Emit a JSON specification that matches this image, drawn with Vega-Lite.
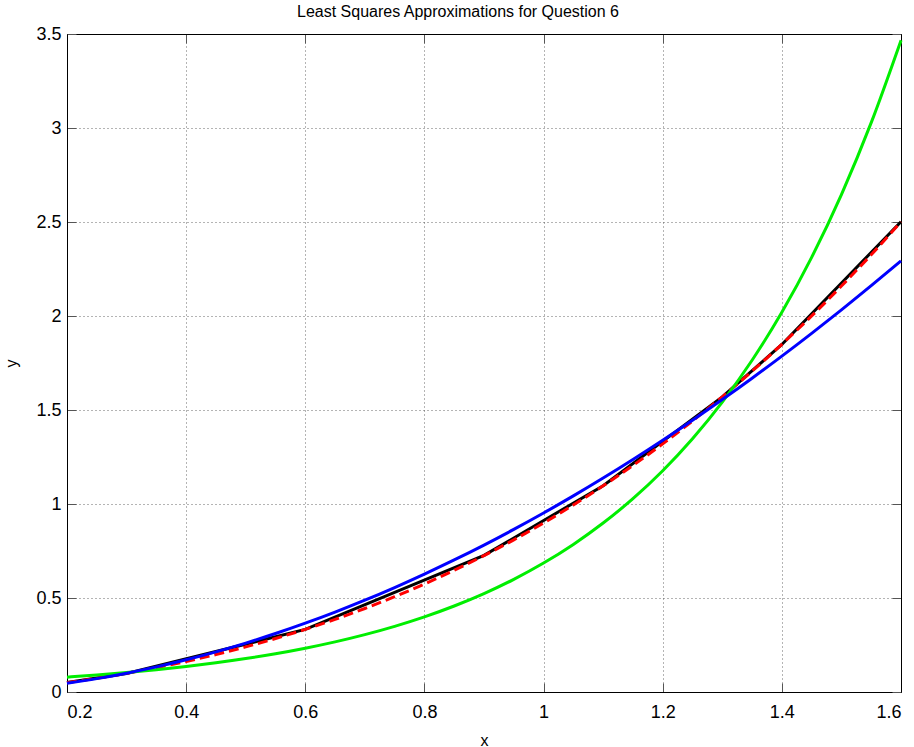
{
  "$schema": "https://vega.github.io/schema/vega-lite/v6.json",
  "width": 834,
  "height": 658,
  "autosize": {"type": "none"},
  "padding": {"left": 67, "top": 34, "right": 13, "bottom": 55},
  "background": "white",
  "title": {
    "text": "Least Squares Approximations for Question 6",
    "font": "Liberation Sans",
    "fontSize": 16,
    "fontWeight": "normal",
    "color": "#000",
    "anchor": "middle",
    "dx": -26,
    "offset": 5
  },
  "config": {
    "view": {"stroke": "#000", "strokeWidth": 1},
    "axis": {
      "labelFont": "Liberation Sans",
      "titleFont": "Liberation Sans",
      "labelFontSize": 18,
      "titleFontSize": 16,
      "titleFontWeight": "normal",
      "labelColor": "#000",
      "titleColor": "#000",
      "domainColor": "#000",
      "tickColor": "#555",
      "tickSize": -9,
      "gridColor": "#444",
      "gridDash": [1, 3],
      "gridOpacity": 0.8
    }
  },
  "datasets": {
    "observed": [
      {"x": 0.2, "y": 0.050446},
      {"x": 0.3, "y": 0.098426},
      {"x": 0.6, "y": 0.33277},
      {"x": 0.9, "y": 0.7266},
      {"x": 1.1, "y": 1.0972},
      {"x": 1.3, "y": 1.5697},
      {"x": 1.4, "y": 1.8487},
      {"x": 1.6, "y": 2.5015}
    ],
    "cubic": [
      {"x": 0.2, "y": 0.0495}, {"x": 0.25, "y": 0.0730}, {"x": 0.3, "y": 0.0996},
      {"x": 0.35, "y": 0.1293}, {"x": 0.4, "y": 0.1625}, {"x": 0.45, "y": 0.1992},
      {"x": 0.5, "y": 0.2398}, {"x": 0.55, "y": 0.2844}, {"x": 0.6, "y": 0.3332},
      {"x": 0.65, "y": 0.3864}, {"x": 0.7, "y": 0.4442}, {"x": 0.75, "y": 0.5068},
      {"x": 0.8, "y": 0.5745}, {"x": 0.85, "y": 0.6473}, {"x": 0.9, "y": 0.7256},
      {"x": 0.95, "y": 0.8094}, {"x": 1.0, "y": 0.8991}, {"x": 1.05, "y": 0.9948},
      {"x": 1.1, "y": 1.0967}, {"x": 1.15, "y": 1.2050}, {"x": 1.2, "y": 1.3199},
      {"x": 1.25, "y": 1.4416}, {"x": 1.3, "y": 1.5703}, {"x": 1.35, "y": 1.7062},
      {"x": 1.4, "y": 1.8496}, {"x": 1.45, "y": 2.0004}, {"x": 1.5, "y": 2.1592},
      {"x": 1.55, "y": 2.3259}, {"x": 1.6, "y": 2.5008}
    ],
    "expo": [
      {"x": 0.2, "y": 0.0791}, {"x": 0.25, "y": 0.0905}, {"x": 0.3, "y": 0.1036},
      {"x": 0.35, "y": 0.1186}, {"x": 0.4, "y": 0.1358}, {"x": 0.45, "y": 0.1554},
      {"x": 0.5, "y": 0.1778}, {"x": 0.55, "y": 0.2035}, {"x": 0.6, "y": 0.2329},
      {"x": 0.65, "y": 0.2666}, {"x": 0.7, "y": 0.3052}, {"x": 0.75, "y": 0.3493},
      {"x": 0.8, "y": 0.3997}, {"x": 0.85, "y": 0.4575}, {"x": 0.9, "y": 0.5236},
      {"x": 0.95, "y": 0.5993}, {"x": 1.0, "y": 0.6860}, {"x": 1.05, "y": 0.7851},
      {"x": 1.1, "y": 0.8986}, {"x": 1.15, "y": 1.0285}, {"x": 1.2, "y": 1.1771},
      {"x": 1.25, "y": 1.3472}, {"x": 1.3, "y": 1.5420}, {"x": 1.35, "y": 1.7648},
      {"x": 1.4, "y": 2.0199}, {"x": 1.45, "y": 2.3119}, {"x": 1.5, "y": 2.6460},
      {"x": 1.55, "y": 3.0284}, {"x": 1.6, "y": 3.4662}
    ],
    "power": [
      {"x": 0.2, "y": 0.0469}, {"x": 0.25, "y": 0.0712}, {"x": 0.3, "y": 0.1001},
      {"x": 0.35, "y": 0.1335}, {"x": 0.4, "y": 0.1714}, {"x": 0.45, "y": 0.2137},
      {"x": 0.5, "y": 0.2603}, {"x": 0.55, "y": 0.3111}, {"x": 0.6, "y": 0.3661},
      {"x": 0.65, "y": 0.4252}, {"x": 0.7, "y": 0.4884}, {"x": 0.75, "y": 0.5558},
      {"x": 0.8, "y": 0.6272}, {"x": 0.85, "y": 0.7024}, {"x": 0.9, "y": 0.7816},
      {"x": 0.95, "y": 0.8649}, {"x": 1.0, "y": 0.9520}, {"x": 1.05, "y": 1.0430},
      {"x": 1.1, "y": 1.1378}, {"x": 1.15, "y": 1.2366}, {"x": 1.2, "y": 1.3390},
      {"x": 1.25, "y": 1.4453}, {"x": 1.3, "y": 1.5554}, {"x": 1.35, "y": 1.6691},
      {"x": 1.4, "y": 1.7866}, {"x": 1.45, "y": 1.9078}, {"x": 1.5, "y": 2.0328},
      {"x": 1.55, "y": 2.1613}, {"x": 1.6, "y": 2.2937}
    ]
  },
  "resolve": {"axis": {"x": "independent", "y": "independent"}},
  "layer": [
    {
      "data": {"name": "observed"},
      "mark": {"type": "line", "color": "#000", "strokeWidth": 3},
      "encoding": {
        "x": {
          "field": "x", "type": "quantitative",
          "scale": {"domain": [0.2, 1.6], "nice": false, "zero": false},
          "axis": {
            "orient": "bottom", "title": "x", "values": [0.2, 0.4, 0.6, 0.8, 1.0, 1.2, 1.4, 1.6],
            "format": "~g", "grid": true, "labelPadding": 20, "titlePadding": 11
          }
        },
        "y": {
          "field": "y", "type": "quantitative",
          "scale": {"domain": [0, 3.5], "nice": false, "zero": false},
          "axis": {
            "orient": "left", "title": "y", "values": [0, 0.5, 1, 1.5, 2, 2.5, 3, 3.5],
            "format": "~g", "grid": true, "labelPadding": 15, "titlePadding": 16
          }
        }
      }
    },
    {
      "data": {"name": "cubic"},
      "mark": {"type": "line", "color": "#ff0000", "strokeWidth": 3, "strokeDash": [10, 5], "interpolate": "monotone"},
      "encoding": {
        "x": {"field": "x", "type": "quantitative", "axis": {"orient": "top", "title": null, "labels": false, "grid": false, "values": [0.2, 0.4, 0.6, 0.8, 1.0, 1.2, 1.4, 1.6]}},
        "y": {"field": "y", "type": "quantitative", "axis": {"orient": "right", "title": null, "labels": false, "grid": false, "values": [0, 0.5, 1, 1.5, 2, 2.5, 3, 3.5]}}
      }
    },
    {
      "data": {"name": "expo"},
      "mark": {"type": "line", "color": "#00ee00", "strokeWidth": 3, "interpolate": "monotone"},
      "encoding": {
        "x": {"field": "x", "type": "quantitative", "axis": null},
        "y": {"field": "y", "type": "quantitative", "axis": null}
      }
    },
    {
      "data": {"name": "power"},
      "mark": {"type": "line", "color": "#0000ff", "strokeWidth": 3, "interpolate": "monotone"},
      "encoding": {
        "x": {"field": "x", "type": "quantitative", "axis": null},
        "y": {"field": "y", "type": "quantitative", "axis": null}
      }
    }
  ]
}
